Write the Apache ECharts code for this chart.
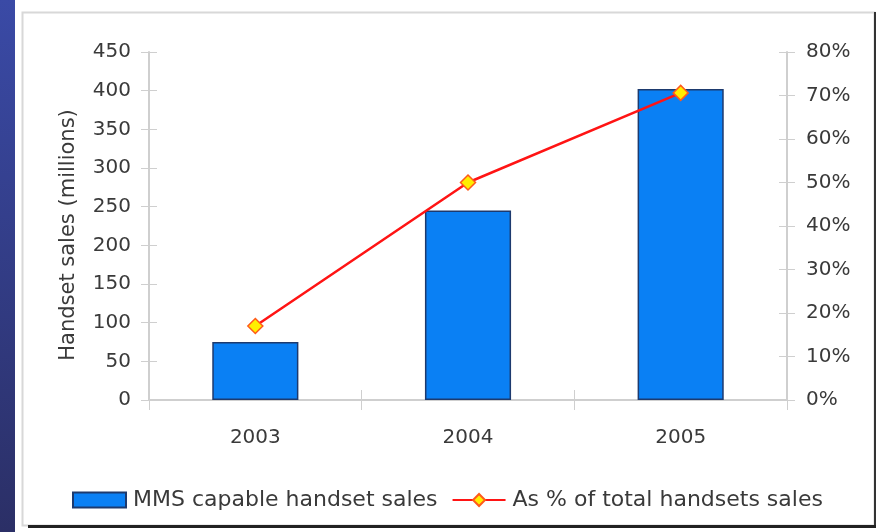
<!DOCTYPE html>
<html>
<head>
<meta charset="utf-8">
<script src="https://cdn.jsdelivr.net/npm/echarts@6/dist/echarts.min.js"></script>
<style>
html,body{margin:0;padding:0;background:#fff;}
#chart{width:877px;height:532px;}
</style>
</head>
<body>
<div id="chart"></div>
<script>
const categories = ['2003', '2004', '2005'];
const mmsSales = [75, 245, 402];
const pctOfTotal = [17, 50, 70.6];
const leftTicks = [0, 450, 50];
const rightTicks = [0, 80, 10];

const chart = echarts.init(document.getElementById('chart'));
const font = 'DejaVu Sans, Verdana, sans-serif';
const txt = '#3a3a3a';
const axisCol = '#cfcfcf';
chart.setOption({
  animation: false,
  backgroundColor: '#ffffff',
  graphic: [
    {type: 'rect', shape: {x: 0, y: 0, width: 15, height: 532}, z: -10,
     style: {fill: new echarts.graphic.LinearGradient(0, 0, 0, 1, [{offset: 0, color: '#3a4aa6'}, {offset: 1, color: '#2b2f66'}])}},
    {type: 'rect', shape: {x: 22.5, y: 12.5, width: 852, height: 513}, z: -9,
     style: {fill: '#ffffff', stroke: '#d8d8d8', lineWidth: 2}},
    {type: 'line', shape: {x1: 875, y1: 12, x2: 875, y2: 527}, z: -8, style: {stroke: '#333', lineWidth: 2}},
    {type: 'line', shape: {x1: 28, y1: 526.5, x2: 876, y2: 526.5}, z: -8, style: {stroke: '#222', lineWidth: 3}}
  ],
  grid: {left: 149, right: 90, top: 52, bottom: 132},
  legend: {
    left: 72, top: 489, padding: 0, itemWidth: 53, itemHeight: 15, itemGap: 14,
    textStyle: {fontFamily: font, fontSize: 22, color: txt, padding: [0, 0, 0, 2]},
    data: [
      {name: 'MMS capable handset sales', icon: 'rect'},
      {name: 'As % of total handsets sales'}
    ]
  },
  xAxis: [
    {
      type: 'category', data: categories,
      axisLine: {lineStyle: {color: axisCol, width: 2}},
      axisTick: {show: true, length: 10, lineStyle: {color: axisCol}},
      axisLabel: {fontFamily: font, fontSize: 20, color: txt, margin: 28}
    },
    {
      type: 'category', data: categories, position: 'bottom',
      axisLine: {show: false},
      axisTick: {show: true, inside: true, length: 10, lineStyle: {color: axisCol}},
      axisLabel: {show: false}
    }
  ],
  yAxis: [
    {
      type: 'value', min: leftTicks[0], max: leftTicks[1], interval: leftTicks[2],
      name: 'Handset sales (millions)', nameLocation: 'middle', nameGap: 70,
      nameTextStyle: {fontFamily: font, fontSize: 21, color: txt, padding: [0, 18, 0, 0]},
      axisLine: {show: true, lineStyle: {color: axisCol, width: 2}},
      axisTick: {show: true, length: 8, lineStyle: {color: axisCol}},
      splitLine: {show: false},
      axisLabel: {fontFamily: font, fontSize: 20, color: txt, margin: 18}
    },
    {
      type: 'value', min: rightTicks[0], max: rightTicks[1], interval: rightTicks[2],
      position: 'right',
      axisLine: {show: true, lineStyle: {color: axisCol, width: 2}},
      axisTick: {show: true, length: 8, lineStyle: {color: axisCol}},
      splitLine: {show: false},
      axisLabel: {fontFamily: font, fontSize: 20, color: txt, margin: 19, formatter: '{value}%'}
    },
    {
      type: 'value', min: leftTicks[0], max: leftTicks[1], interval: leftTicks[2],
      position: 'left', axisLine: {show: false}, splitLine: {show: false}, axisLabel: {show: false},
      axisTick: {show: true, inside: true, length: 8, lineStyle: {color: axisCol}}
    },
    {
      type: 'value', min: rightTicks[0], max: rightTicks[1], interval: rightTicks[2],
      position: 'right', axisLine: {show: false}, splitLine: {show: false}, axisLabel: {show: false},
      axisTick: {show: true, inside: true, length: 8, lineStyle: {color: axisCol}}
    }
  ],
  series: [
    {
      name: 'MMS capable handset sales', type: 'bar', data: mmsSales, barWidth: '40.5%',
      itemStyle: {color: '#0a80f4', borderColor: '#1d3a6e', borderWidth: 1.5}
    },
    {
      name: 'As % of total handsets sales', type: 'line', yAxisIndex: 1, data: pctOfTotal,
      symbol: 'diamond', symbolSize: 15,
      lineStyle: {color: '#ff1414', width: 2.5},
      itemStyle: {color: '#ffee00', borderColor: '#ff5a1a', borderWidth: 1.5}
    }
  ]
});
</script>
</body>
</html>
